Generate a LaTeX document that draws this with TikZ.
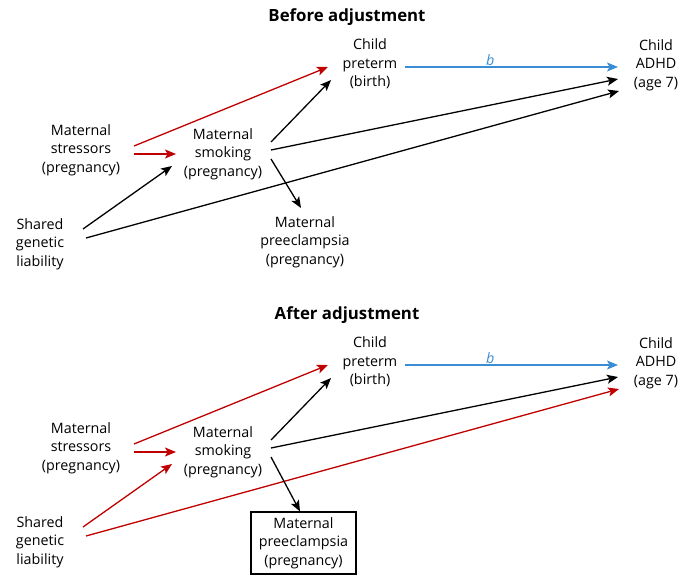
\documentclass[tikz,border=0pt]{standalone}
\usepackage{fontspec}
\setmainfont{Open Sans}
\usetikzlibrary{arrows.meta}
\definecolor{pathred}{HTML}{C00000}
\definecolor{pathblue}{HTML}{3A8DD3}
\tikzset{
  var/.style={align=center, inner sep=0pt, font=\fontsize{14.3}{18.5}\selectfont},
  boxed/.style={var, draw, line width=1.2pt, minimum width=105pt, minimum height=62pt},
  ttl/.style={font=\fontsize{16.8}{19}\selectfont\bfseries},
  link/.style={line width=1.3pt, -{Stealth[length=11pt,width=9pt,inset=2.5pt]}},
  blk/.style={link, black},
  red/.style={link, pathred},
  blu/.style={link, pathblue},
}
\begin{document}
\begin{tikzpicture}[x=1pt,y=-1pt]
\useasboundingbox (0,0) rectangle (679,575);

% ---- upper panel: before adjustment ----
\node[ttl] (ta) at (347,17) {Before adjustment};
\node[var] (apre) at (370,64) {Child\\preterm\\(birth)};
\node[var] (aadhd) at (656,65) {Child\\ADHD\\(age 7)};
\node[var] (astr) at (81,150) {Maternal\\stressors\\(pregnancy)};
\node[var] (asmk) at (223,154) {Maternal\\smoking\\(pregnancy)};
\node[var] (agen) at (40,244) {Shared\\genetic\\liability};
\node[var] (ape) at (305,242) {Maternal\\preeclampsia\\(pregnancy)};

\draw[red] ([shift={(53,-4)}]astr.center) -- ([shift={(-42,3)}]apre.center);
\draw[red] ([shift={(53,4)}]astr.center) -- ([shift={(-47,0)}]asmk.center);
\draw[blk] ([shift={(43,-15)}]agen.center) -- ([shift={(-51,12)}]asmk.center);
\draw[blk] ([shift={(46,-6)}]agen.center) -- ([shift={(-37,26)}]aadhd.center);
\draw[blk] ([shift={(48,-12)}]asmk.center) -- ([shift={(-39,16)}]apre.center);
\draw[blk] ([shift={(48,-4)}]asmk.center) -- ([shift={(-38,14)}]aadhd.center);
\draw[blk] ([shift={(48,5)}]asmk.center) -- ([shift={(-4,-34)}]ape.center);
\draw[blu] ([shift={(35,3)}]apre.center) -- node[pos=0.4, above=1pt, var, text=pathblue] {\itshape b} ([shift={(-38,2)}]aadhd.center);

% ---- lower panel: after adjustment ----
\begin{scope}[yshift=-298pt]
\node[ttl] (tb) at (347,17) {After adjustment};
\node[var] (bpre) at (370,64) {Child\\preterm\\(birth)};
\node[var] (badhd) at (656,65) {Child\\ADHD\\(age 7)};
\node[var] (bstr) at (81,150) {Maternal\\stressors\\(pregnancy)};
\node[var] (bsmk) at (223,154) {Maternal\\smoking\\(pregnancy)};
\node[var] (bgen) at (40,244) {Shared\\genetic\\liability};
\node[boxed] (bpe) at (303.5,245) {Maternal\\preeclampsia\\(pregnancy)};

\draw[red] ([shift={(53,-4)}]bstr.center) -- ([shift={(-42,3)}]bpre.center);
\draw[red] ([shift={(53,4)}]bstr.center) -- ([shift={(-47,0)}]bsmk.center);
\draw[red] ([shift={(43,-15)}]bgen.center) -- ([shift={(-51,12)}]bsmk.center);
\draw[red] ([shift={(46,-6)}]bgen.center) -- ([shift={(-37,26)}]badhd.center);
\draw[blk] ([shift={(48,-12)}]bsmk.center) -- ([shift={(-39,16)}]bpre.center);
\draw[blk] ([shift={(48,-4)}]bsmk.center) -- ([shift={(-38,14)}]badhd.center);
\draw[blk] ([shift={(48,5)}]bsmk.center) -- (bpe.north -| 300,0);
\draw[blu] ([shift={(35,3)}]bpre.center) -- node[pos=0.4, above=1pt, var, text=pathblue] {\itshape b} ([shift={(-38,2)}]badhd.center);
\end{scope}
\end{tikzpicture}
\end{document}
